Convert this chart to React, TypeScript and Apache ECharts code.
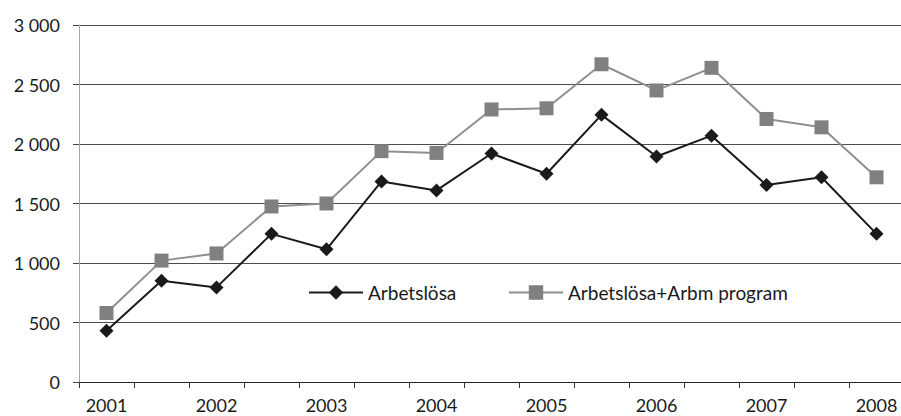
import React, { useEffect, useRef } from "react";
import * as echarts from "echarts";

const categories = [
  "2001", "2001 II", "2002", "2002 II", "2003", "2003 II", "2004", "2004 II",
  "2005", "2005 II", "2006", "2006 II", "2007", "2007 II", "2008",
];
const arbetslosa = [430, 850, 795, 1245, 1115, 1685, 1610, 1920, 1750, 2245, 1895, 2070, 1655, 1720, 1245];
const arbetslosaArbm = [580, 1020, 1080, 1475, 1500, 1940, 1925, 2290, 2300, 2670, 2450, 2640, 2210, 2140, 1720];
const seriesNames = ["Arbetslösa", "Arbetslösa+Arbm program"];

const FONT = "Lato, 'Open Sans', sans-serif";

export default function App() {
  const ref = useRef<HTMLDivElement>(null);
  useEffect(() => {
    if (!ref.current) return;
    const chart = echarts.init(ref.current, undefined, { renderer: "svg" });
    const legendCommon = {
      top: 283,
      padding: 0,
      itemWidth: 54,
      itemHeight: 18,
      itemGap: 6,
      textStyle: { fontFamily: FONT, fontSize: 19, color: "#1a1a1a" },
    };
    chart.setOption({
      animation: false,
      textStyle: { fontFamily: FONT },
      grid: { left: 79, right: 1, top: 25, bottom: 34, containLabel: false },
      legend: [
        { ...legendCommon, data: [seriesNames[0]], left: 308 },
        { ...legendCommon, data: [seriesNames[1]], left: 508 },
      ],
      xAxis: {
        type: "category",
        data: categories,
        boundaryGap: true,
        axisLine: { lineStyle: { color: "#222", width: 1 } },
        axisTick: { show: true, interval: 0, length: 6, lineStyle: { color: "#333" } },
        axisLabel: {
          interval: 1,
          margin: 14,
          fontSize: 18,
          color: "#1a1a1a",
          fontFamily: FONT,
        },
        splitLine: { show: false },
      },
      yAxis: {
        type: "value",
        min: 0,
        max: 3000,
        interval: 500,
        axisLine: { show: true, lineStyle: { color: "#a6a6a6", width: 1 } },
        axisTick: { show: true, length: 6, lineStyle: { color: "#444" } },
        axisLabel: {
          margin: 19,
          fontSize: 18,
          color: "#1a1a1a",
          fontFamily: FONT,
          formatter: (v: number) => (v >= 1000 ? `${Math.floor(v / 1000)} ${String(v % 1000).padStart(3, "0")}` : String(v)),
        },
        splitLine: { show: true, lineStyle: { color: "#4d4d4d", width: 1 } },
      },
      series: [
        {
          name: seriesNames[0],
          type: "line",
          data: arbetslosa,
          symbol: "diamond",
          symbolSize: 14,
          lineStyle: { color: "#1a1a1a", width: 2 },
          itemStyle: { color: "#1a1a1a" },
          z: 3,
        },
        {
          name: seriesNames[1],
          type: "line",
          data: arbetslosaArbm,
          symbol: "rect",
          symbolSize: 14,
          lineStyle: { color: "#8f8f8f", width: 2 },
          itemStyle: { color: "#808080" },
          z: 2,
        },
      ],
    });
    return () => chart.dispose();
  }, []);
  return (
    <div
      ref={ref}
      style={{ position: "fixed", left: 0, top: 0, width: 905, height: 416, background: "#fff" }}
    />
  );
}
